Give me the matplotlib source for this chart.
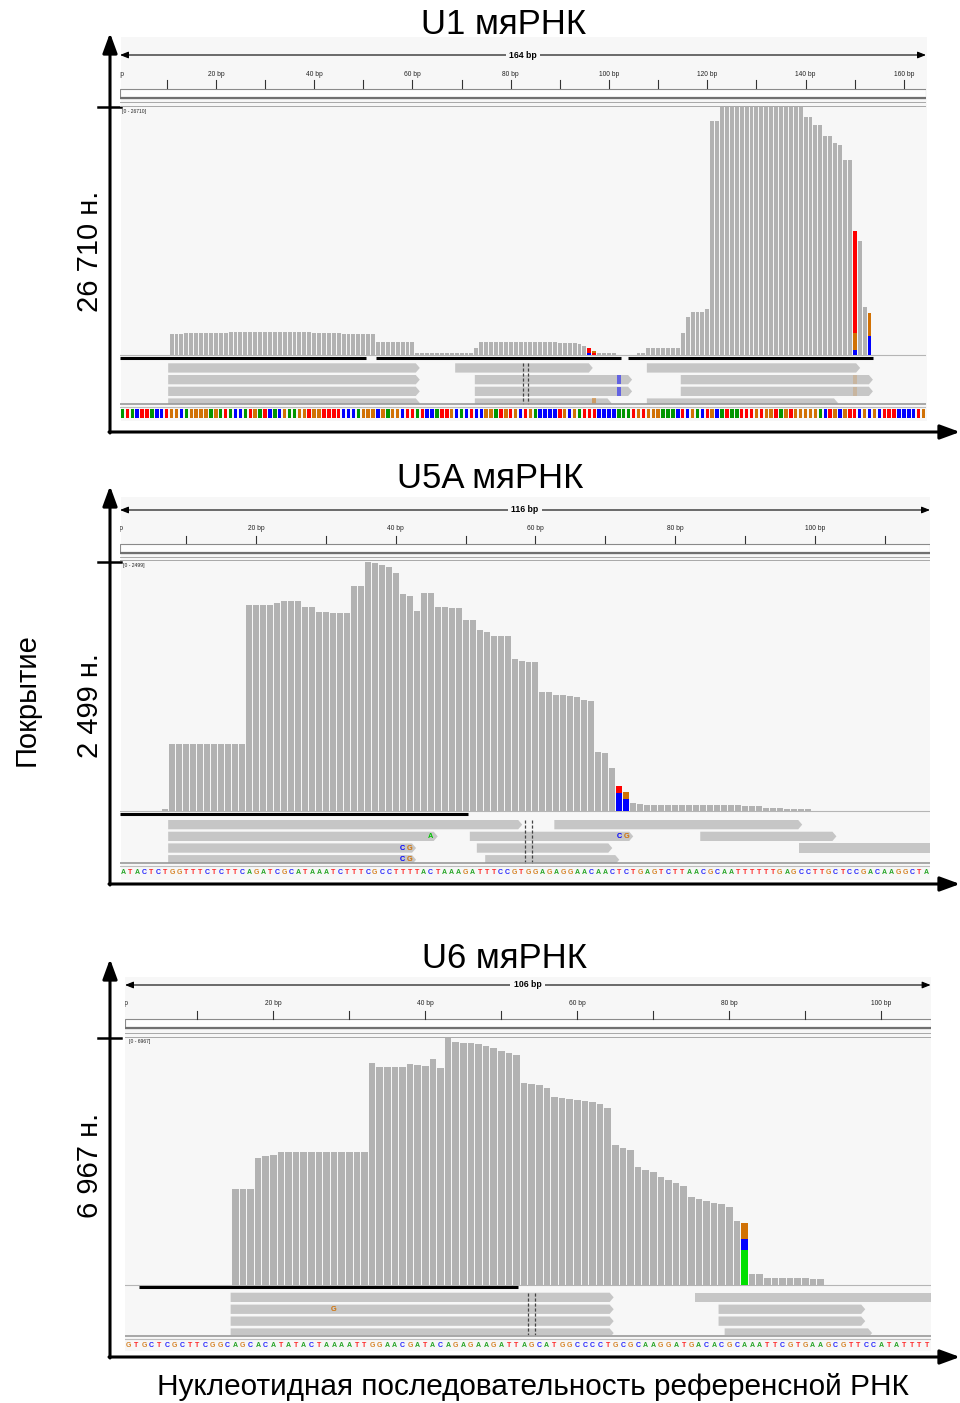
import matplotlib
matplotlib.use("Agg")
import matplotlib.pyplot as plt
from matplotlib.patches import Polygon, Rectangle
import numpy as np

plt.rcParams['font.family'] = ['Liberation Sans', 'DejaVu Sans']

W, H = 960, 1403

# ---------------- data ----------------
u1_seq = ("ATACTTACCTGGCAGGGGAGATACCATGATCACGAAGGTGGTTTTCCCAGGGCGAGGCTTATCCATTGCA"
          "CTCCGGATGTGCTGACCCCTGCGATTTCCCCAAATGTGGGAAACTCGACTGCATAATTTGTGGTAGTGGG"
          "GGACTGCGTTCGCGCTTTCCCCTG")
u1_cov = ([0] * 10 + [2190] * 3 + [2300] * 9 + [2400] * 17 + [2300] * 6 + [2190] * 7
          + [1320] * 8 + [195] * 12 + [700] + [1320] * 16 + [1280, 1280, 1210, 1210, 1100, 920]
          + [670, 325, 200, 200, 150, 150] + [0] * 4 + [120, 120] + [670] * 7
          + [2330, 4090, 4600, 4600, 4600, 4930, 25260, 25260] + [26710] * 17
          + [25650, 25650, 24750, 24750, 23590, 23590, 22870, 22690, 20990, 20990]
          + [13300, 12220, 5180, 4460] + [0] * 11)
u1_mm_pos = [95, 96, 149, 152]
u1_mm_bases = ['CT', 'TG', 'CGT', 'CG']
u1_mm_counts = [[170, 500], [200, 125], [490, 1840, 10970], [2000, 2460]]
u1_reads = [(0, 9.8, 61.0, True), (0, 68.2, 96.2, True), (0, 107.2, 150.6, True),
            (1, 9.8, 61.0, True), (1, 72.2, 104.2, True), (1, 114.1, 153.2, True),
            (2, 9.8, 61.0, True), (2, 72.2, 104.2, True), (2, 114.1, 153.2, True),
            (3, 9.8, 61.0, True), (3, 72.2, 100.0, True), (3, 107.2, 146.1, True)]
u1_read_mm = [(1, 101, 'C', 0.5), (2, 101, 'C', 0.5), (3, 96, 'G', 0.5),
              (1, 149, 'G', 0.2), (2, 149, 'G', 0.2)]
u1_feats = [(0, 50), (52, 102), (103.4, 153.2)]

u5_seq = ("ATACTCTGGTTTCTCTTCAGATCGCATAAATCTTTCGCCTTTTACTAAAGATTTCCGTGGAGAGGAACAA"
          "CTCTGAGTCTTAACGCAATTTTTTGAGCCTTGCTCCGACAAGGCTA")
u5_cov = ([0] * 6 + [20] + [670] * 11 + [2065] * 4 + [2082] + [2108] * 3 + [2042] * 2
          + [1995] * 2 + [1985] * 3 + [2256] * 2 + [2499, 2490, 2467, 2444, 2383, 2173, 2156, 2005]
          + [2189] * 2 + [2042] * 2 + [2032] * 2 + [1912] * 2 + [1814, 1797] + [1757] * 3
          + [1523, 1500, 1490, 1490, 1189, 1189, 1165, 1165, 1155, 1145, 1112, 1098]
          + [586, 576, 432, 251, 191, 77, 67] + [57] * 14 + [47] * 3 + [30] * 3 + [17] * 4
          + [0] * 17)
u5_mm_pos = [71, 72]
u5_mm_bases = ['CT', 'CG']
u5_mm_counts = [[175, 76], [120, 71]]
u5_reads = [(0, 6.9, 57.6, True), (0, 62.2, 97.7, True),
            (1, 6.9, 45.5, True), (1, 50.1, 73.5, True), (1, 83.1, 102.6, True),
            (2, 6.9, 42.4, True), (2, 51.1, 70.5, True), (2, 97.3, 116.0, False),
            (3, 6.9, 42.4, True), (3, 52.3, 71.5, True)]
u5_read_mm = [(1, 44, 'A', 1), (2, 40, 'C', 1), (2, 41, 'G', 1), (3, 40, 'C', 1),
              (3, 41, 'G', 1), (1, 71, 'C', 1), (1, 72, 'G', 1)]
u5_feats = [(0, 49.9)]

u6_seq = ("GTGCTCGCTTCGGCAGCACATATACTAAAATTGGAACGATACAGAGAAGATTAGCATGGCCCCTGCGCAA"
          "GGATGACACGCAAATTCGTGAAGCGTTCCATATTTTT")[:106]
u6_cov = ([0] * 14 + [2699] * 3 + [3573, 3629, 3658] + [3742] * 12
          + [6243, 6148, 6148, 6148, 6131, 6224, 6196, 6167, 6356, 6102]
          + [6967, 6853, 6824, 6807, 6788, 6732, 6666, 6599, 6525, 6478]
          + [5688, 5660, 5632, 5547, 5293, 5265, 5237, 5209, 5180, 5152, 5096, 4983]
          + [3940, 3855, 3799, 3319, 3235, 3178, 3037, 2952, 2868, 2783]
          + [2473, 2417, 2369, 2312, 2276, 2183, 1797, 1748]
          + [302] * 2 + [180] * 6 + [152] * 2 + [0] * 14)
u6_mm_pos = [81]
u6_mm_bases = ['ACG']
u6_mm_counts = [[987, 310, 451]]
u6_reads = [(0, 13.9, 64.3, True), (0, 75.0, 106.0, False),
            (1, 13.9, 64.3, True), (1, 78.1, 97.4, True),
            (2, 13.9, 64.3, True), (2, 78.1, 97.4, True),
            (3, 13.9, 64.3, True), (3, 78.9, 98.3, True)]
u6_read_mm = [(1, 27, 'G', 1)]
u6_feats = [(1.8, 51.7)]

BG = '#f7f7f7'
COV = '#b2b2b2'
READ = '#c6c6c6'
SEQ_COL = {'A': '#009600', 'C': '#0000ff', 'G': '#d17105', 'T': '#ff0000'}
MM_COL = {'A': '#00e000', 'C': '#0000ff', 'G': '#d17105', 'T': '#ff0000'}

layouts = [
    dict(x0=120, x1=926, bg=(121, 37, 927, 421), ruler=55, lab=74, tick=(80, 88),
         hbox=(89, 98), hl=(102, 106), cov=(107.3, 354.5), feat=358,
         rows=(363.3, 11.7, 9.3), rbot=404, seps=(404.5, 407.5), seq=(409, 418),
         axis=(33, 432), title=('U1 мяРНК', 504, 24), ylab=('26 710 н.', 251)),
    dict(x0=120, x1=930, bg=(121, 497, 930, 880), ruler=510, lab=529, tick=(536, 543),
         hbox=(543.5, 553), hl=(557, 560), cov=(561.7, 810.7), feat=813.5,
         rows=(820, 11.7, 9.3), rbot=862.7, seps=(863, 865.5), seq=(873, 873),
         axis=(486, 884), title=('U5A мяРНК', 490, 479), ylab=('2 499 н.', 706)),
    dict(x0=125, x1=930.6, bg=(125, 977, 931, 1351), ruler=985, lab=1004, tick=(1011, 1019),
         hbox=(1019.3, 1028.3), hl=(1032.7, 1036.7), cov=(1037.7, 1284.7), feat=1287.3,
         rows=(1292.7, 11.9, 9.3), rbot=1335.5, seps=(1336, 1339.3), seq=(1346, 1346),
         axis=(959, 1357), title=('U6 мяРНК', 504, 958), ylab=('6 967 н.', 1165)),
]

fig = plt.figure(figsize=(W / 100, H / 100), dpi=100)


def box(x0, y0, x1, y1):
    return [x0 / W, 1 - y1 / H, (x1 - x0) / W, (y1 - y0) / H]


over = fig.add_axes([0, 0, 1, 1])
over.set_xlim(0, W)
over.set_ylim(H, 0)
over.axis('off')


def draw_panel(L, cov, seq, mm_pos, mm_bases, mm_counts, reads, read_mm, feats, blocks):
    N = len(cov)
    ppb = (L['x1'] - L['x0']) / N
    gap = 1.0 / ppb
    bx0, by0, bx1, by1 = L['bg']
    over.add_patch(Rectangle((bx0, by0), bx1 - bx0, by1 - by0, facecolor=BG,
                             edgecolor='none', zorder=0))

    # outer axes with arrows
    atop, abot = L['axis']
    ct, cb = L['cov']
    arr = dict(arrowstyle='-|>,head_length=0.6,head_width=0.22', color='black', lw=2.2,
               mutation_scale=20, shrinkA=0, shrinkB=0)
    over.annotate('', xy=(110, atop), xytext=(110, abot + 1), arrowprops=arr)
    over.annotate('', xy=(960, abot), xytext=(109, abot), arrowprops=arr)
    over.plot([98, 121], [ct, ct], color='black', lw=1.8)
    t, tx, ty = L['title']
    over.text(tx, ty, t, fontsize=25, ha='center', va='center')
    over.text(90, L['ylab'][1], L['ylab'][0], fontsize=21, rotation=90,
              ha='center', va='center')

    ax = fig.add_axes(box(L['x0'], by0, L['x1'], by1))
    ax.set_xlim(0, N)
    ax.set_ylim(by1, by0)
    ax.axis('off')
    ax.patch.set_alpha(0)

    # ruler
    ry = L['ruler']
    ax.annotate('', xy=(N, ry), xytext=(0, ry),
                arrowprops=dict(arrowstyle='<|-|>,head_length=0.5,head_width=0.2',
                                color='black', lw=0.8, mutation_scale=10,
                                shrinkA=0, shrinkB=0))
    ax.text(N / 2, ry, f'{N} bp', ha='center', va='center', fontsize=6.2,
            fontweight='bold', bbox=dict(facecolor=BG, edgecolor='none', pad=2.5))
    t0, t1 = L['tick']
    for tk in range(10, N, 10):
        ax.plot([tk - 0.5] * 2, [t0, t1], color='#333333', lw=0.8)
    for tk in range(0, N, 20):
        ax.text(tk - 0.5, L['lab'], f'{tk} bp', ha='center', va='center',
                fontsize=4.8, color='#222222', clip_on=True)

    ha_, hb_ = L['hbox']
    ax.add_patch(Rectangle((0, ha_), N, hb_ - ha_, facecolor='#fdfdfd',
                           edgecolor='#8a8a8a', lw=0.8))
    ax.plot([0, N], [hb_, hb_], color='#707070', lw=1.6)
    for yl in L['hl']:
        ax.plot([0, N], [yl, yl], color='#a8a8a8', lw=0.7)
    ax.text(0.5, ct + 1.5, f'[0 - {max(cov)}]', fontsize=3.6, va='top', ha='left',
            color='#222222')
    ax.plot([0, N], [cb + 0.5, cb + 0.5], color='#b5b5b5', lw=0.8)

    # coverage
    axc = fig.add_axes(box(L['x0'], ct, L['x1'], cb))
    axc.set_xlim(0, N)
    axc.set_ylim(0, max(cov))
    axc.axis('off')
    axc.patch.set_alpha(0)
    axc.bar(np.arange(N) + gap / 2, cov, width=1 - gap, align='edge', color=COV,
            linewidth=0)
    for p, bases, counts in zip(mm_pos, mm_bases, mm_counts):
        bottom = 0
        for b, c in zip(bases, counts):
            axc.bar(p + gap / 2, c, bottom=bottom, width=1 - gap, align='edge',
                    color=MM_COL[b], linewidth=0)
            bottom += c

    # feature line
    for s, e in feats:
        ax.plot([s, e], [L['feat']] * 2, color='black', lw=2.2, solid_capstyle='butt')

    # reads
    rtop, pitch, rh = L['rows']
    clip = Rectangle((0, rtop - 1), N, L['rbot'] - rtop + 1, transform=ax.transData)
    for row, s, e, arrow in reads:
        y0 = rtop + row * pitch
        y1 = y0 + rh
        a = 4.0 / ppb if arrow else 0
        pts = [(s, y0), (e - a, y0), (e, (y0 + y1) / 2), (e - a, y1), (s, y1)]
        poly = Polygon(pts, closed=True, facecolor=READ, edgecolor='none')
        ax.add_patch(poly)
        poly.set_clip_path(clip)
    for row, p, b, al in read_mm:
        y0 = rtop + row * pitch
        if blocks:
            r = Rectangle((p + gap / 2, y0), 1 - gap, rh, facecolor=MM_COL[b],
                          edgecolor='none', alpha=al)
            ax.add_patch(r)
            r.set_clip_path(clip)
        else:
            ax.text(p + 0.5, y0 + rh / 2, b, color=MM_COL[b] if b != 'A' else '#00c000',
                    fontsize=5.3, fontweight='bold', ha='center', va='center')
    c = N // 2
    for xx in (c, c + 1):
        ax.plot([xx, xx], [rtop, L['rbot']], color='#444444', lw=0.9,
                ls=(0, (2.5, 1.5)))

    # separators and sequence
    s1, s2 = L['seps']
    ax.plot([0, N], [s1, s1], color='#9a9a9a', lw=1.2)
    ax.plot([0, N], [s2, s2], color='#bdbdbd', lw=0.8)
    q0, q1 = L['seq']
    if blocks:
        ax.bar(np.arange(N) + 0.15, q1 - q0, bottom=q0, width=0.7, align='edge',
               color=[SEQ_COL[b] for b in seq[:N]], linewidth=0)
    else:
        for i, b in enumerate(seq[:N]):
            ax.text(i + 0.5, q0, b, color=SEQ_COL[b], fontsize=5.0, fontweight='bold',
                    ha='center', va='center', alpha=0.85)


draw_panel(layouts[0], u1_cov, u1_seq, u1_mm_pos, u1_mm_bases, u1_mm_counts,
           u1_reads, u1_read_mm, u1_feats, True)
draw_panel(layouts[1], u5_cov, u5_seq, u5_mm_pos, u5_mm_bases, u5_mm_counts,
           u5_reads, u5_read_mm, u5_feats, False)
draw_panel(layouts[2], u6_cov, u6_seq, u6_mm_pos, u6_mm_bases, u6_mm_counts,
           u6_reads, u6_read_mm, u6_feats, False)

over.text(27, 700, 'Покрытие', fontsize=21, rotation=90, ha='center', va='center')
over.text(533, 1387, 'Нуклеотидная последовательность референсной РНК', fontsize=21.4,
          ha='center', va='center')

fig.savefig('out.png', dpi=100)
